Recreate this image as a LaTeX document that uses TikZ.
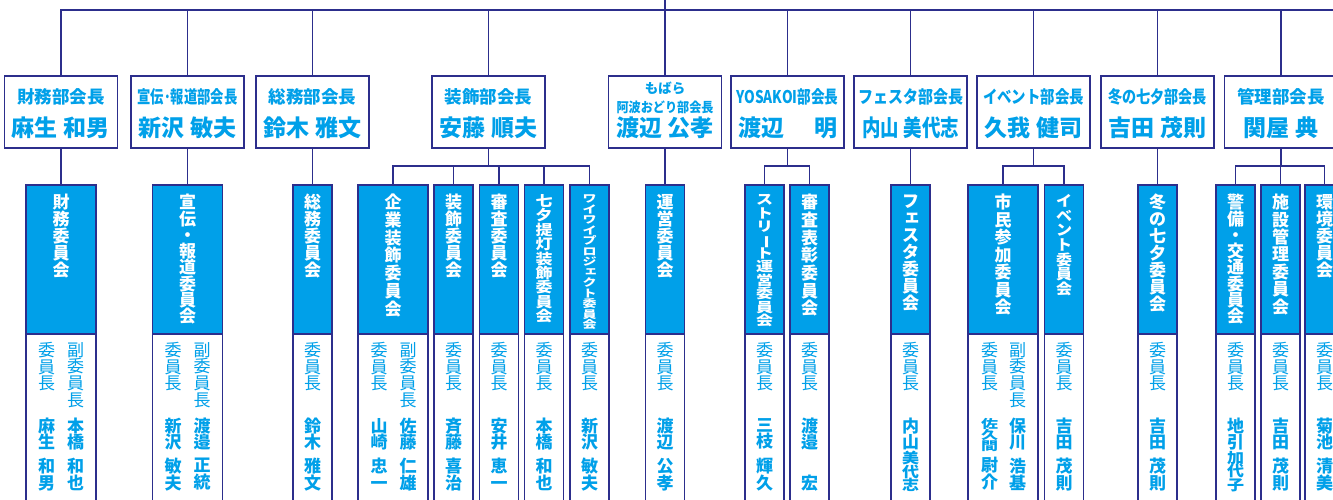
\documentclass[tikz,border=0pt]{standalone}
\usepackage{fontspec}
\setmainfont{Noto Sans CJK JP}
\usepackage{graphicx}
\definecolor{navy}{RGB}{44,46,140}
\definecolor{sky}{RGB}{0,160,233}
\newcommand\vstk[3][1]{\scalebox{1}[#1]{\baselineskip=#2pt\lineskiplimit=-1000pt\lineskip=0pt\vbox{\halign{\hfil##\hfil\cr\vphantom{田}#3\crcr}}}}
\newcommand\chou{\rotatebox[origin=c]{-90}{ー}}
\newcommand\smk[1]{\hspace{0.2em}\raisebox{0.15em}{#1}}
\newcommand\fitw[2]{\resizebox{#1}{\height}{#2}}
\newcommand\nsp{\hspace{6pt}}
\tikzset{
  lnk/.style={draw=navy, line width=1.8pt},
  headbox/.style={draw=navy, line width=1.8pt, fill=white, minimum width=113pt, minimum height=72pt, anchor=north, inner sep=0pt, outer sep=0pt},
  combox/.style={draw=navy, line width=1.8pt, fill=white, minimum height=330pt, anchor=north, inner sep=0pt, outer sep=0pt},
  wbox/.style={combox, minimum width=70pt},
  nbox/.style={combox, minimum width=39pt},
  hdr/.style={fill=sky, draw=navy, line width=1.8pt},
  htitle/.style={text=sky, font=\bfseries\fontsize{17.5}{20}\selectfont, inner sep=0pt},
  hsmall/.style={text=sky, font=\bfseries\fontsize{13.5}{15}\selectfont, inner sep=0pt},
  hname/.style={text=sky, font=\bfseries\fontsize{23}{25}\selectfont, inner sep=0pt},
  ctitle/.style={text=white, font=\bfseries\fontsize{17}{18}\selectfont, inner sep=0pt, anchor=north},
  crole/.style={text=sky, font=\fontsize{17}{18}\selectfont, inner sep=0pt, anchor=north},
  cname/.style={text=sky, font=\bfseries\fontsize{17}{18}\selectfont, inner sep=0pt, anchor=north}
}
\begin{document}
\begin{tikzpicture}[x=1pt,y=-1pt]
\useasboundingbox (0,0) rectangle (1333,499);
\clip (0,0) rectangle (1333,499);
% ---------- head boxes
\node[headbox] (h1) at (61,76) {};
\node[headbox] (h2) at (187.5,76) {};
\node[headbox] (h3) at (312.5,76) {};
\node[headbox] (h4) at (488.5,76) {};
\node[headbox] (h5) at (665,76) {};
\node[headbox] (h6) at (787.5,76) {};
\node[headbox] (h7) at (910.5,76) {};
\node[headbox] (h8) at (1033.5,76) {};
\node[headbox] (h9) at (1157.5,76) {};
\node[headbox] (h10) at (1281,76) {};
% ---------- committee boxes
\node[wbox] (c1) at (61,185) {};
\node[wbox] (c2) at (187.5,185) {};
\node[nbox] (c3) at (312.5,185) {};
\node[wbox] (c4) at (393,185) {};
\node[nbox] (c5) at (453.5,185) {};
\node[nbox] (c6) at (499,185) {};
\node[nbox] (c7) at (544,185) {};
\node[nbox] (c8) at (589.5,185) {};
\node[nbox] (c9) at (665,185) {};
\node[nbox] (c10) at (764.5,185) {};
\node[nbox] (c11) at (809.5,185) {};
\node[nbox] (c12) at (910.5,185) {};
\node[wbox] (c13) at (1003,185) {};
\node[nbox] (c14) at (1064,185) {};
\node[nbox] (c15) at (1157.5,185) {};
\node[nbox] (c16) at (1235.5,185) {};
\node[nbox] (c17) at (1280.5,185) {};
\node[nbox] (c18) at (1324.5,185) {};
\foreach \c in {c1,c2,c3,c4,c5,c6,c7,c8,c9,c10,c11,c12,c13,c14,c15,c16,c17,c18}
  \draw[hdr] (\c.north west) rectangle ([yshift=-149pt]\c.north east);
% ---------- connectors
\coordinate (top) at (665,10);
\coordinate (topR) at (1345,10);
\coordinate (topU) at (665,-5);
\coordinate (bar) at (0,166);
\draw[lnk] (h1.north) -- (h1.north |- top) -- (topR);
\foreach \h in {h2,h3,h4,h5,h6,h7,h8,h9,h10}
  \draw[lnk] (\h.north) -- (\h.north |- top);
\draw[lnk] (h5.north |- top) -- (topU);
\foreach \h/\c in {h1/c1,h2/c2,h3/c3,h5/c9,h7/c12,h9/c15}
  \draw[lnk] (\h.south) -- (\c.north);
\foreach \h in {h4,h6,h8,h10}
  \draw[lnk] (\h.south) -- (\h.south |- bar);
\draw[lnk] (c4.north) -- (c4.north |- bar) -- (c8.north |- bar) -- (c8.north);
\foreach \c in {c5,c6,c7} \draw[lnk] (\c.north |- bar) -- (\c.north);
\draw[lnk] (c10.north) -- (c10.north |- bar) -- (c11.north |- bar) -- (c11.north);
\draw[lnk] (c13.north) -- (c13.north |- bar) -- (c14.north |- bar) -- (c14.north);
\draw[lnk] (c16.north) -- (c16.north |- bar) -- (c18.north |- bar) -- (c18.north);
\draw[lnk] (c17.north |- bar) -- (c17.north);
% ---------- head texts
\node[htitle] (h1a) at (61,97) {財務部会長};
\node[hname] (h1b) at (61,128) {麻生\nsp 和男};
\node[htitle] (h2a) at (187.5,97) {\fitw{100pt}{宣伝･報道部会長}};
\node[hname] (h2b) at (187.5,128) {新沢\nsp 敏夫};
\node[htitle] (h3a) at (312.5,97) {総務部会長};
\node[hname] (h3b) at (312.5,128) {鈴木\nsp 雅文};
\node[htitle] (h4a) at (488.5,97) {装飾部会長};
\node[hname] (h4b) at (488.5,128) {安藤\nsp 順夫};
\node[hsmall] (h5a) at (665,88.5) {もばら};
\node[hsmall] (h5b) at (665,107) {\fitw{97pt}{阿波おどり部会長}};
\node[hname] (h5c) at (665,128) {渡辺\nsp 公孝};
\node[htitle] (h6a) at (787.5,97) {\fitw{102pt}{YOSAKOI部会長}};
\node[hname] (h6b) at (787.5,128) {渡辺\hspace{30pt}明};
\node[htitle] (h7a) at (910.5,97) {\fitw{105pt}{フェスタ部会長}};
\node[hname] (h7b) at (910.5,128) {\fitw{97pt}{内山\nsp 美代志}};
\node[htitle] (h8a) at (1033.5,97) {\fitw{101pt}{イベント部会長}};
\node[hname] (h8b) at (1033.5,128) {久我\nsp 健司};
\node[htitle] (h9a) at (1157.5,97) {\fitw{99pt}{冬の七夕部会長}};
\node[hname] (h9b) at (1157.5,128) {吉田\nsp 茂則};
\node[htitle] (h10a) at (1281,97) {管理部会長};
\node[hname] (h10b) at (1281,128) {関屋\nsp 典};
% ---------- committee titles
\node[ctitle] (c1t) at (61,194) {\vstk{17}{財\cr 務\cr 委\cr 員\cr 会}};
\node[ctitle] (c2t) at (187.5,194) {\vstk{16.3}{宣\cr 伝\cr ・\cr 報\cr 道\cr 委\cr 員\cr 会}};
\node[ctitle] (c3t) at (312.5,194) {\vstk{17}{総\cr 務\cr 委\cr 員\cr 会}};
\node[ctitle] (c4t) at (393,194) {\vstk{17.7}{企\cr 業\cr 装\cr 飾\cr 委\cr 員\cr 会}};
\node[ctitle] (c5t) at (453.5,194) {\vstk{17}{装\cr 飾\cr 委\cr 員\cr 会}};
\node[ctitle] (c6t) at (499,194) {\vstk{17}{審\cr 査\cr 委\cr 員\cr 会}};
\node[ctitle] (c7t) at (544,194) {\vstk[0.85]{17}{七\cr 夕\cr 提\cr 灯\cr 装\cr 飾\cr 委\cr 員\cr 会}};
\node[ctitle, font=\bfseries\fontsize{14}{15}\selectfont] (c8t) at (589.5,194) {\vstk[0.75]{14}{ワ\cr イ\cr ワ\cr イ\cr プ\cr ロ\cr ジ\cr \smk{ェ}\cr ク\cr ト\cr 委\cr 員\cr 会}};
\node[ctitle] (c9t) at (665,194) {\vstk{17}{運\cr 営\cr 委\cr 員\cr 会}};
\node[ctitle] (c10t) at (764.5,194) {\vstk[0.79]{17}{ス\cr ト\cr リ\cr \chou\cr ト\cr 運\cr 営\cr 委\cr 員\cr 会}};
\node[ctitle] (c11t) at (809.5,194) {\vstk{17.7}{審\cr 査\cr 表\cr 彰\cr 委\cr 員\cr 会}};
\node[ctitle] (c12t) at (910.5,194) {\vstk{17}{フ\cr \smk{ェ}\cr ス\cr タ\cr 委\cr 員\cr 会}};
\node[ctitle] (c13t) at (1003,194) {\vstk{17.5}{市\cr 民\cr 参\cr 加\cr 委\cr 員\cr 会}};
\node[ctitle, font=\bfseries\fontsize{16}{17}\selectfont] (c14t) at (1064,194) {\vstk[0.92]{16}{イ\cr ベ\cr ン\cr ト\cr 委\cr 員\cr 会}};
\node[ctitle] (c15t) at (1157.5,194) {\vstk{17}{冬\cr の\cr 七\cr 夕\cr 委\cr 員\cr 会}};
\node[ctitle] (c16t) at (1235.5,194) {\vstk{16.3}{警\cr 備\cr ・\cr 交\cr 通\cr 委\cr 員\cr 会}};
\node[ctitle] (c17t) at (1280.5,194) {\vstk{17.4}{施\cr 設\cr 管\cr 理\cr 委\cr 員\cr 会}};
\node[ctitle] (c18t) at (1324.5,194) {\vstk{17}{環\cr 境\cr 委\cr 員\cr 会}};
% ---------- roles
\foreach \n/\x in {c1r/46.5, c2r/173, c3r/312.5, c4r/379, c5r/453.5, c6r/499, c7r/544, c8r/589.5, c9r/665, c10r/764.5, c11r/809.5, c12r/910.5, c13r/989.5, c14r/1064, c15r/1157.5, c16r/1235.5, c17r/1280.5, c18r/1324.5}
  \node[crole] (\n) at (\x,342) {\vstk{16.7}{委\cr 員\cr 長}};
\foreach \n/\x in {c1s/75.5, c2s/202, c4s/408, c13s/1017.5}
  \node[crole] (\n) at (\x,342) {\vstk{16.7}{副\cr 委\cr 員\cr 長}};
% ---------- names
\node[cname] (c1n) at (46.5,418) {\vstk{16}{麻\cr 生}};
\node[cname] (c1g) at (46.5,458) {\vstk{17}{和\cr 男}};
\node[cname] (c1m) at (75.5,418) {\vstk{16}{本\cr 橋}};
\node[cname] (c1h) at (75.5,458) {\vstk{17}{和\cr 也}};
\node[cname] (c2n) at (173,418) {\vstk{16}{新\cr 沢}};
\node[cname] (c2g) at (173,458) {\vstk{17}{敏\cr 夫}};
\node[cname] (c2m) at (202,418) {\vstk{16}{渡\cr 邉}};
\node[cname] (c2h) at (202,458) {\vstk{17}{正\cr 統}};
\node[cname] (c3n) at (312.5,418) {\vstk{16}{鈴\cr 木}};
\node[cname] (c3g) at (312.5,458) {\vstk{17}{雅\cr 文}};
\node[cname] (c4n) at (379,418) {\vstk{16}{山\cr 崎}};
\node[cname] (c4g) at (379,458) {\vstk{17}{忠\cr 一}};
\node[cname] (c4m) at (408,418) {\vstk{16}{佐\cr 藤}};
\node[cname] (c4h) at (408,458) {\vstk{17}{仁\cr 雄}};
\node[cname] (c5n) at (453.5,418) {\vstk{16}{斉\cr 藤}};
\node[cname] (c5g) at (453.5,458) {\vstk{17}{喜\cr 治}};
\node[cname] (c6n) at (499,418) {\vstk{16}{安\cr 井}};
\node[cname] (c6g) at (499,458) {\vstk{17}{恵\cr 一}};
\node[cname] (c7n) at (544,418) {\vstk{16}{本\cr 橋}};
\node[cname] (c7g) at (544,458) {\vstk{17}{和\cr 也}};
\node[cname] (c8n) at (589.5,418) {\vstk{16}{新\cr 沢}};
\node[cname] (c8g) at (589.5,458) {\vstk{17}{敏\cr 夫}};
\node[cname] (c9n) at (665,418) {\vstk{16}{渡\cr 辺}};
\node[cname] (c9g) at (665,458) {\vstk{17}{公\cr 孝}};
\node[cname] (c10n) at (764.5,418) {\vstk{16}{三\cr 枝}};
\node[cname] (c10g) at (764.5,458) {\vstk{17}{輝\cr 久}};
\node[cname] (c11n) at (809.5,418) {\vstk{16}{渡\cr 邉}};
\node[cname] (c11g) at (809.5,475) {\vstk{17}{宏}};
\node[cname] (c12n) at (910.5,418) {\vstk{16}{内\cr 山}};
\node[cname] (c12g) at (910.5,451) {\vstk[0.85]{16}{美\cr 代\cr 志}};
\node[cname] (c13n) at (989.5,418) {\vstk[0.7]{16}{佐\cr 久\cr 間}};
\node[cname] (c13g) at (989.5,457) {\vstk{17}{尉\cr 介}};
\node[cname] (c13m) at (1017.5,418) {\vstk{16}{保\cr 川}};
\node[cname] (c13h) at (1017.5,458) {\vstk{17}{浩\cr 基}};
\node[cname] (c14n) at (1064,418) {\vstk{16}{吉\cr 田}};
\node[cname] (c14g) at (1064,458) {\vstk{17}{茂\cr 則}};
\node[cname] (c15n) at (1157.5,418) {\vstk{16}{吉\cr 田}};
\node[cname] (c15g) at (1157.5,458) {\vstk{17}{茂\cr 則}};
\node[cname] (c16n) at (1235.5,418) {\vstk{16}{地\cr 引}};
\node[cname] (c16g) at (1235.5,451) {\vstk[0.85]{16}{加\cr 代\cr 子}};
\node[cname] (c17n) at (1280.5,418) {\vstk{16}{吉\cr 田}};
\node[cname] (c17g) at (1280.5,458) {\vstk{17}{茂\cr 則}};
\node[cname] (c18n) at (1324.5,418) {\vstk{16}{菊\cr 池}};
\node[cname] (c18g) at (1324.5,458) {\vstk{17}{清\cr 美}};
\end{tikzpicture}
\end{document}
